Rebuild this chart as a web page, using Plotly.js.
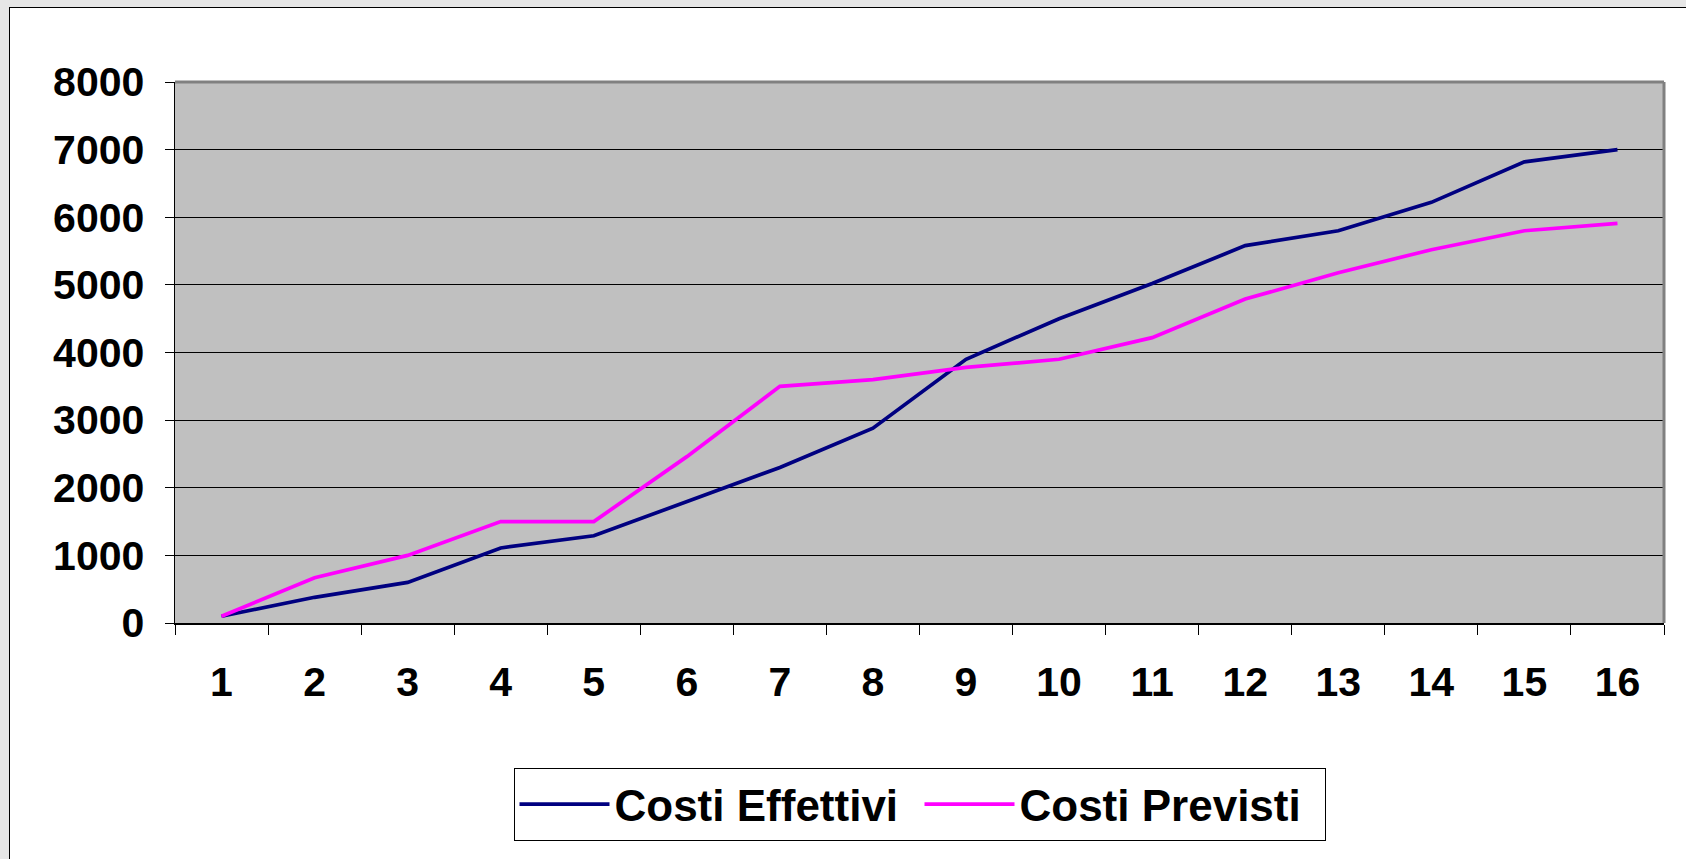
<!DOCTYPE html>
<html>
<head>
<meta charset="utf-8">
<script src="https://cdn.plot.ly/plotly-3.0.1.min.js"></script>
<style>
  html, body { margin:0; padding:0; width:1686px; height:859px; background:#e6e6e6; overflow:hidden; }
  #chart { position:absolute; left:9px; top:7px; width:1677px; height:852px;
           border-left:1px solid #000; border-top:1px solid #000; background:#fff; }
</style>
</head>
<body>
<div id="chart"></div>
<script>
const categories = ['1','2','3','4','5','6','7','8','9','10','11','12','13','14','15','16'];
const costiEffettivi = [100, 380, 600, 1110, 1290, 1800, 2300, 2880, 3900, 4500, 5020, 5580, 5800, 6220, 6820, 7000];
const costiPrevisti  = [100, 670, 1000, 1500, 1500, 2460, 3500, 3600, 3780, 3900, 4220, 4790, 5180, 5520, 5800, 5910];
const yTicks = [0, 1000, 2000, 3000, 4000, 5000, 6000, 7000, 8000];

const FONT = 'Liberation Sans, Arial, Helvetica, sans-serif';

const traces = [
  { x: categories, y: costiEffettivi, name: 'Costi Effettivi', type: 'scatter', mode: 'lines',
    line: { color: '#000080', width: 3.7 } },
  { x: categories, y: costiPrevisti, name: 'Costi Previsti', type: 'scatter', mode: 'lines',
    line: { color: '#ff00ff', width: 3.7 } }
];

const layout = {
  width: 1677, height: 852,
  margin: { l: 165, r: 23, t: 74, b: 237, pad: 0 },
  paper_bgcolor: '#ffffff',
  plot_bgcolor: '#c0c0c0',
  showlegend: true,
  legend: {
    orientation: 'h', xref: 'paper', x: 0.5, xanchor: 'center',
    yref: 'container', y: 0.108, yanchor: 'top',
    bgcolor: '#ffffff', bordercolor: '#000000', borderwidth: 1,
    font: { family: FONT, size: 44, weight: 'bold', color: '#000' },
    itemwidth: 90, entrywidth: 300, entrywidthmode: 'pixels', tracegroupgap: 0
  },
  xaxis: {
    type: 'category', range: [-0.5, 15.5], autorange: false,
    tickson: 'boundaries', ticks: 'outside', ticklen: 10, tickcolor: '#000',
    showline: true, linecolor: '#000', linewidth: 1.5, showgrid: false, zeroline: false,
    tickfont: { family: FONT, size: 41, weight: 'bold', color: '#000' },
    ticklabelstandoff: 22, fixedrange: true
  },
  yaxis: {
    range: [0, 8000], autorange: false, tickvals: yTicks, ticktext: yTicks.map(String),
    ticks: 'outside', ticklen: 9, tickcolor: '#000',
    showline: true, linecolor: '#000', linewidth: 1.5,
    showgrid: true, gridcolor: '#000', gridwidth: 1, zeroline: false,
    tickfont: { family: FONT, size: 41, weight: 'bold', color: '#000' },
    ticklabelstandoff: 12, fixedrange: true
  },
  shapes: [
    { type: 'line', xref: 'paper', yref: 'paper', x0: 0, x1: 1, y0: 1, y1: 1,
      line: { color: '#808080', width: 3 } },
    { type: 'line', xref: 'paper', yref: 'paper', x0: 1, x1: 1, y0: 0, y1: 1,
      line: { color: '#808080', width: 3 } }
  ]
};

Plotly.newPlot('chart', traces, layout, { displayModeBar: false, staticPlot: true });
</script>
</body>
</html>
